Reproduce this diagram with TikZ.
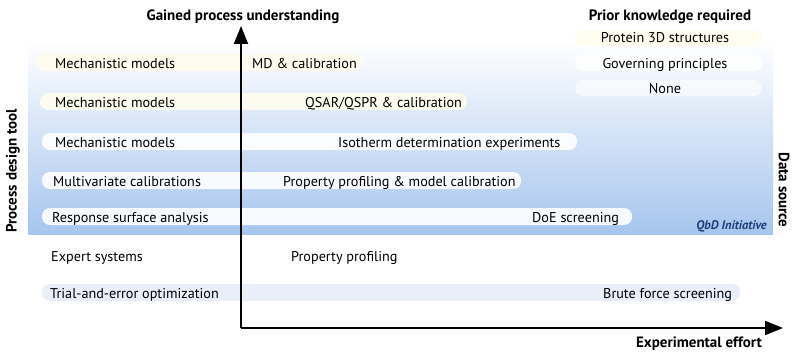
\documentclass[tikz,border=0pt]{standalone}
\usepackage{fontspec}
\setmainfont{PT Sans}
\usetikzlibrary{arrows.meta}
\definecolor{bandtop}{HTML}{FFFFFF}
\definecolor{bandmid}{HTML}{D3E4F7}
\definecolor{bandlow}{HTML}{A6C5EE}
\definecolor{pillwarm}{HTML}{FFFDEE}
\definecolor{pilllav}{HTML}{E8ECF8}
\definecolor{qbdblue}{HTML}{1F3F78}
\tikzset{
  lbl/.style={inner sep=0pt, font=\fontsize{14.2}{16}\selectfont, text=black},
  head/.style={inner sep=0pt, font=\fontsize{15}{17}\selectfont\bfseries, text=black},
  pill/.style={rounded corners=8pt, fill=white, fill opacity=0.9},
  axis/.style={line width=2pt, -{Triangle[length=18pt,width=14pt]}}
}
\begin{document}
\begin{tikzpicture}[x=1pt,y=-1pt]
\useasboundingbox (0,0) rectangle (792,353);
% shaded band behind the model rows
\shade[top color=bandtop, middle color=bandmid, bottom color=bandlow] (28,40) rectangle (773,234);
% pills behind each row
\fill[pill, fill=pillwarm] (36,54) rectangle (362,71);
\fill[pill, fill=pillwarm] (40,93) rectangle (467,110);
\fill[pill] (42,133) rectangle (577,150);
\fill[pill] (42,172) rectangle (521,189);
\fill[pill] (42,208) rectangle (632,225);
\fill[pill, fill=pilllav] (42,284) rectangle (740,301);
\fill[pill, fill=pillwarm] (575,30) rectangle (762,46);
\fill[pill] (575,55) rectangle (762,71);
\fill[pill, fill opacity=0.6] (575,80) rectangle (762,96);
% axes
\coordinate (O) at (241,328);
\coordinate (ytip) at (241,26);
\coordinate (xtip) at (783,328);
\draw[axis] (O) -- (ytip);
\draw[axis] (O) -- (xtip);
% axis titles
\node[head, anchor=base] (ytitle) at (243,21) {Gained process understanding};
\node[head, anchor=base] (prior) at (670,21) {Prior knowledge required};
\node[head, anchor=base east] (xtitle) at (762,347) {Experimental effort};
\node[head, rotate=90] (pdt) at (13,171) {Process design tool};
\node[head, rotate=-90] (dsrc) at (784,190) {Data source};
% prior knowledge column
\node[lbl, anchor=base] (pk1) at (665,43) {Protein 3D structures};
\node[lbl, anchor=base] (pk2) at (665,68) {Governing principles};
\node[lbl, anchor=base] (pk3) at (665,93) {None};
% process design tools
\node[lbl, anchor=base west] (t1) at (55,68) {Mechanistic models};
\node[lbl, anchor=base west] (t2) at (55,107) {Mechanistic models};
\node[lbl, anchor=base west] (t3) at (55,147) {Mechanistic models};
\node[lbl, anchor=base west] (t4) at (53,186) {Multivariate calibrations};
\node[lbl, anchor=base west] (t5) at (52,222) {Response surface analysis};
\node[lbl, anchor=base west] (t6) at (51,261) {Expert systems};
\node[lbl, anchor=base west] (t7) at (50,298) {Trial-and-error optimization};
% data sources
\node[lbl, anchor=base west] (d1) at (252,68) {MD \& calibration};
\node[lbl, anchor=base west] (d2) at (305,107) {QSAR/QSPR \& calibration};
\node[lbl, anchor=base west] (d3) at (338,147) {Isotherm determination experiments};
\node[lbl, anchor=base west] (d4) at (283,186) {Property profiling \& model calibration};
\node[lbl, anchor=base west] (d5) at (532,222) {DoE screening};
\node[lbl, anchor=base west] (d6) at (291,261) {Property profiling};
\node[lbl, anchor=base west] (d7) at (603,298) {Brute force screening};
\node[inner sep=0pt, anchor=base east, text=qbdblue, font=\fontsize{12.5}{14}\selectfont\bfseries\itshape] (qbd) at (767,229) {QbD Initiative};
\end{tikzpicture}
\end{document}
